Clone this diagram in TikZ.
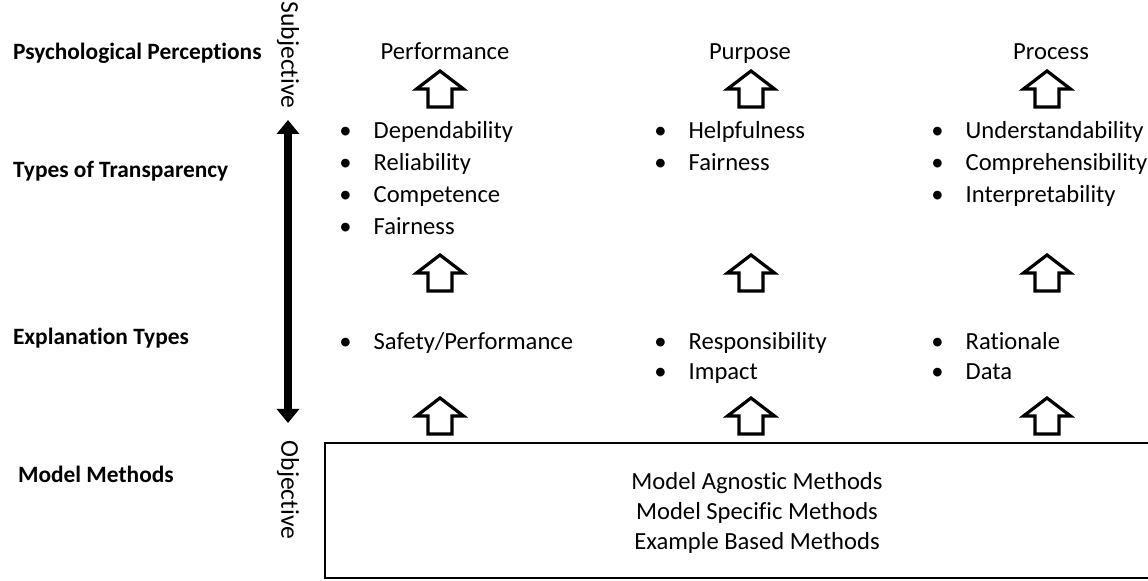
\documentclass[tikz,border=0pt]{standalone}
\usepackage{fontspec}
\setmainfont{Carlito}[Ligatures=NoCommon]
\usetikzlibrary{arrows.meta}

% bullet list of one column
\newcommand{\blist}[1]{\begin{tabular}[t]{@{}l@{\hskip 11pt}l@{}}#1\end{tabular}}
\newcommand{\bi}[1]{\textbullet & #1}

\begin{document}
\begin{tikzpicture}
            [x=0.5pt, y=-0.5pt, font=\fontsize{12.3}{14.8}\selectfont,
             lbl/.style={anchor=base west, font=\fontsize{11.7}{14}\selectfont\bfseries},
             head/.style={anchor=base},
             lst/.style={anchor=base west, inner sep=0pt, font=\fontsize{12.3}{16}\selectfont},
             uparr/.pic={\draw[line width=1.6pt, line join=miter]
                 (0,-18) -- (23.5,0) -- (12,0) -- (12,18) -- (-12,18) -- (-12,0) -- (-23.5,0) -- cycle;}]
            \useasboundingbox (0,0) rectangle (1148,581);
            % row labels
            \node[lbl] (pp) at (6,60) {Psychological Perceptions};
            \node[lbl] (tt) at (6,178) {Types of Transparency};
            \node[lbl] (et) at (6,345) {Explanation Types};
            \node[lbl] (mm) at (11,483) {Model Methods};
            % subjective / objective scale
            \node[rotate=-90, font=\fontsize{12.8}{15}\selectfont] (subj) at (288,55) {Subjective};
            \node[rotate=-90, font=\fontsize{12.8}{15}\selectfont] (obj) at (288,490) {Objective};
            \coordinate (stop) at (288,120);
            \coordinate (sbot) at (288,423);
            \draw[line width=3.8pt, {Triangle[width=11pt,length=7pt]}-{Triangle[width=11pt,length=7pt]}] (stop) -- (sbot);
            % perceptions
            \node[head] (perf) at (445,60) {Performance};
            \node[head] (purp) at (750,60) {Purpose};
            \node[head] (proc) at (1051,60) {Process};
            % block arrows
            \foreach \x/\n in {440/a, 751/b, 1047/c} {
              \pic (up1\n) at (\x,89) {uparr};
              \pic (up2\n) at (\x,273) {uparr};
              \pic (up3\n) at (\x,416) {uparr};
            }
            % transparency
            \node[lst] (tr1) at (339,139) {\blist{\bi{Dependability}\\ \bi{Reliability}\\ \bi{Competence}\\ \bi{Fairness}}};
            \node[lst] (tr2) at (654,139) {\blist{\bi{Helpfulness}\\ \bi{Fairness}}};
            \node[lst] (tr3) at (931,139) {\blist{\bi{Understandability}\\ \bi{Comprehensibility}\\ \bi{Interpretability}}};
            % explanations
            \node[lst, font=\fontsize{12.3}{14.8}\selectfont] (ex1) at (339,350) {\blist{\bi{Safety/Performance}}};
            \node[lst, font=\fontsize{12.3}{14.8}\selectfont] (ex2) at (654,350) {\blist{\bi{Responsibility}\\ \bi{Impact}}};
            \node[lst, font=\fontsize{12.3}{14.8}\selectfont] (ex3) at (931,350) {\blist{\bi{Rationale}\\ \bi{Data}}};
            % methods box
            \draw[line width=1.2pt] (1160,443) -- (325,443) -- (325,578) -- (1160,578);
            \node[align=center] (mth) at (757,513) {Model Agnostic Methods\\ Model Specific Methods\\ Example Based Methods};
            \end{tikzpicture}
\end{document}
